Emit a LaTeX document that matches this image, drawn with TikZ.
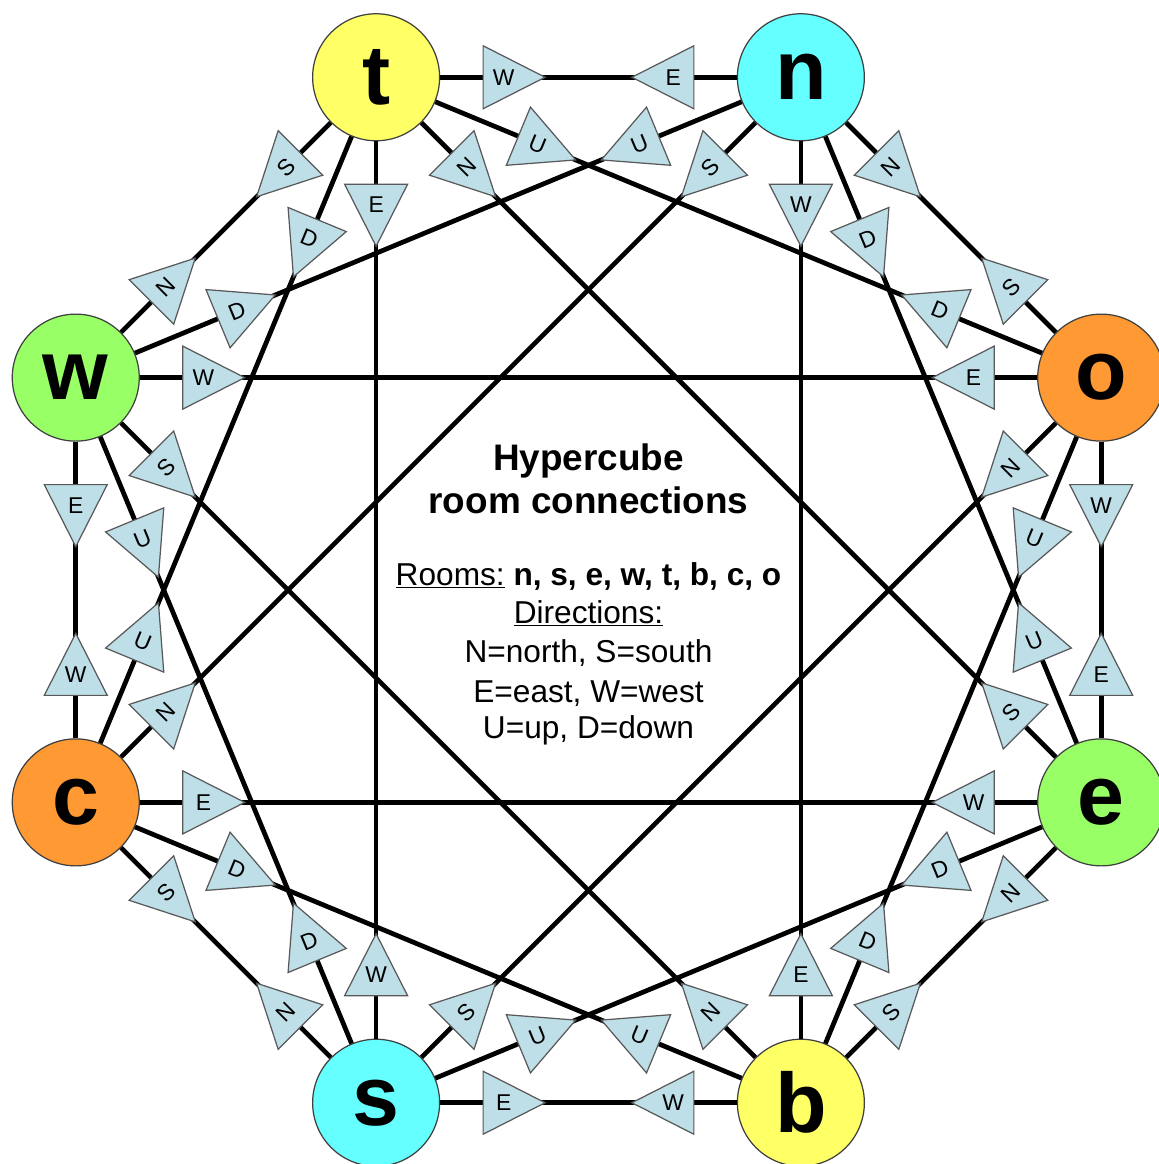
\documentclass[tikz,border=0pt]{standalone}
\usepackage{fontspec}
\setmainfont{Liberation Sans}
\usetikzlibrary{calc}
\definecolor{triblue}{RGB}{190,222,232}
\definecolor{roomyellow}{RGB}{255,255,102}
\definecolor{roomcyan}{RGB}{102,255,255}
\definecolor{roomorange}{RGB}{255,153,51}
\definecolor{roomgreen}{RGB}{153,255,102}
% #1 from room, #2 to room, #3 label, #4 base distance, #5 apex distance
\newcommand\hctri[5]{%
  \coordinate (tb) at ($(#1)!#4!(#2)$);
  \coordinate (ta) at ($(#1)!#5!(#2)$);
  \draw[trishape] ($(tb)!0.63cm!90:(ta)$) -- (ta) -- ($(tb)!0.63cm!-90:(ta)$) -- cycle;
  \path let \p1=($(#2)-(#1)$), \n1={atan2(\y1,\x1)}, \n2={\n1-90*ceil((\n1-45.5)/90)} in
    node[trilabel, rotate=\n2] (L#1#2) at ($(tb)!0.333!(ta)$) {#3};
}
\newcommand\trinear[3]{\hctri{#1}{#2}{#3}{2.14cm}{3.38cm}}
\newcommand\trifar[3]{\hctri{#1}{#2}{#3}{3.08cm}{4.32cm}}
\begin{document}
\begin{tikzpicture}[
  room/.style={circle, draw=black!75, line width=0.7pt, minimum size=2.54cm, inner sep=0pt,
    font=\fontsize{48}{48}\selectfont\bfseries},
  edge/.style={line width=2.7pt, black},
  trishape/.style={fill=triblue, draw=black!65, line width=0.7pt, line join=miter},
  trilabel/.style={font=\fontsize{13}{13}\selectfont, inner sep=0pt},
  title/.style={font=\fontsize{21}{21}\selectfont\bfseries, anchor=base},
  info/.style={font=\fontsize{18}{18}\selectfont, anchor=base}
]
\useasboundingbox[fill=white] (-11.77,-11.48) rectangle (11.41,11.80);
\def\R{11.1}
\node[room, fill=roomyellow] (t) at (112.5:\R) {t};
\node[room, fill=roomcyan]   (n) at (67.5:\R) {n};
\node[room, fill=roomorange] (o) at (22.5:\R) {o};
\node[room, fill=roomgreen]  (e) at (-22.5:\R) {e};
\node[room, fill=roomyellow] (b) at (-67.5:\R) {b};
\node[room, fill=roomcyan]   (s) at (-112.5:\R) {s};
\node[room, fill=roomorange] (c) at (-157.5:\R) {c};
\node[room, fill=roomgreen]  (w) at (157.5:\R) {w};

\foreach \a/\b in {t/n,t/w,t/o,t/c,t/e,t/s,n/o,n/w,n/e,n/b,n/c,o/e,o/b,o/w,o/s,
                   e/b,e/s,e/c,b/s,b/c,b/w,s/c,s/w,c/w}
  \draw[edge] (\a) -- (\b);

% room t
\trinear{t}{n}{W} \trinear{t}{w}{S} \trifar{t}{o}{U} \trifar{t}{c}{D} \trinear{t}{e}{N} \trinear{t}{s}{E}
% room n
\trinear{n}{t}{E} \trinear{n}{o}{N} \trifar{n}{w}{U} \trifar{n}{e}{D} \trinear{n}{b}{W} \trinear{n}{c}{S}
% room o
\trinear{o}{n}{S} \trifar{o}{t}{D} \trinear{o}{e}{W} \trifar{o}{b}{U} \trinear{o}{w}{E} \trinear{o}{s}{N}
% room e
\trinear{e}{t}{S} \trifar{e}{n}{U} \trinear{e}{o}{E} \trinear{e}{b}{N} \trifar{e}{s}{D} \trinear{e}{c}{W}
% room b
\trinear{b}{n}{E} \trifar{b}{o}{D} \trinear{b}{e}{S} \trinear{b}{s}{W} \trifar{b}{c}{U} \trinear{b}{w}{N}
% room s
\trinear{s}{t}{W} \trinear{s}{o}{S} \trifar{s}{e}{U} \trinear{s}{b}{E} \trinear{s}{c}{N} \trifar{s}{w}{D}
% room c
\trifar{c}{t}{U} \trinear{c}{n}{N} \trinear{c}{e}{E} \trifar{c}{b}{D} \trinear{c}{s}{S} \trinear{c}{w}{W}
% room w
\trinear{w}{t}{N} \trifar{w}{n}{D} \trinear{w}{o}{W} \trinear{w}{b}{S} \trifar{w}{s}{U} \trinear{w}{c}{E}

% legend
\node[title] (h1) at (0,2.40) {Hypercube};
\node[title] (h2) at (0,1.54) {room connections};
\node[info] (l1) at (0,0.10) {\underline{Rooms:} \textbf{n, s, e, w, t, b, c, o}};
\node[info] (l2) at (0,-0.66) {\underline{Directions:}};
\node[info] (l3) at (0,-1.44) {N=north, S=south};
\node[info] (l4) at (0,-2.24) {E=east, W=west};
\node[info] (l5) at (0,-2.96) {U=up, D=down};
\end{tikzpicture}
\end{document}
